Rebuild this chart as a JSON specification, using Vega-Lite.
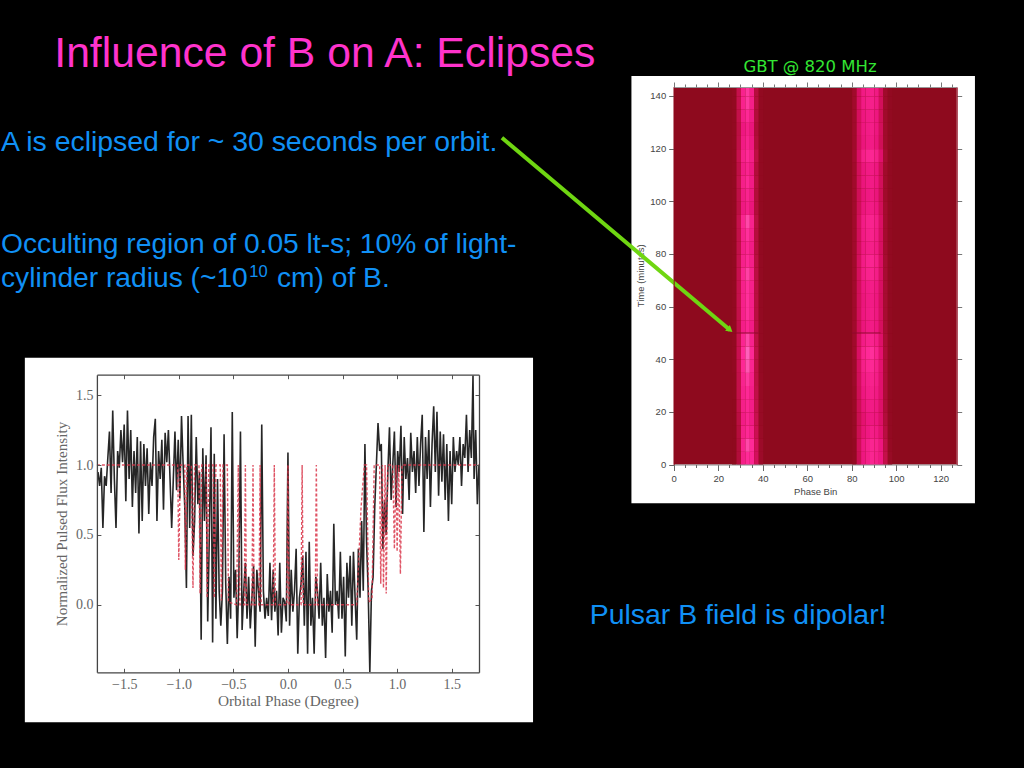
{"$schema":"https://vega.github.io/schema/vega-lite/v6.json","description":"Slide: eclipses of pulsar A by pulsar B, with a flux curve and a phase-time image.","width":1024,"height":768,"padding":0,"autosize":"none","background":"#000000","view":{"stroke":null},
"datasets":{
"flux":[{"p":-1.74,"f":0.95},{"p":-1.725,"f":0.85},{"p":-1.71,"f":0.98},{"p":-1.695,"f":0.55},{"p":-1.68,"f":0.92},{"p":-1.665,"f":0.85},{"p":-1.65,"f":1.05},{"p":-1.635,"f":1.24},{"p":-1.62,"f":0.8},{"p":-1.605,"f":1.39},{"p":-1.59,"f":0.9},{"p":-1.575,"f":0.55},{"p":-1.56,"f":1.1},{"p":-1.545,"f":0.98},{"p":-1.53,"f":1.25},{"p":-1.515,"f":1.02},{"p":-1.5,"f":1.29},{"p":-1.485,"f":0.74},{"p":-1.47,"f":1.39},{"p":-1.455,"f":0.9},{"p":-1.44,"f":1.25},{"p":-1.425,"f":0.7},{"p":-1.41,"f":1.1},{"p":-1.395,"f":0.8},{"p":-1.38,"f":1.2},{"p":-1.365,"f":0.51},{"p":-1.35,"f":1.17},{"p":-1.335,"f":0.6},{"p":-1.32,"f":1.15},{"p":-1.305,"f":0.85},{"p":-1.29,"f":1.12},{"p":-1.275,"f":0.65},{"p":-1.26,"f":1.02},{"p":-1.245,"f":0.85},{"p":-1.23,"f":1.2},{"p":-1.215,"f":1.33},{"p":-1.2,"f":0.6},{"p":-1.185,"f":1.1},{"p":-1.17,"f":0.9},{"p":-1.155,"f":1.18},{"p":-1.14,"f":0.68},{"p":-1.125,"f":1.23},{"p":-1.11,"f":1.02},{"p":-1.095,"f":1.25},{"p":-1.08,"f":0.9},{"p":-1.065,"f":0.55},{"p":-1.05,"f":0.9},{"p":-1.035,"f":1.24},{"p":-1.02,"f":0.82},{"p":-1.005,"f":1.18},{"p":-0.99,"f":0.76},{"p":-0.975,"f":1.35},{"p":-0.96,"f":1.0},{"p":-0.945,"f":0.7},{"p":-0.93,"f":0.12},{"p":-0.915,"f":1.35},{"p":-0.9,"f":0.55},{"p":-0.885,"f":1.36},{"p":-0.87,"f":0.35},{"p":-0.855,"f":0.6},{"p":-0.84,"f":1.2},{"p":-0.825,"f":0.72},{"p":-0.81,"f":0.95},{"p":-0.795,"f":-0.25},{"p":-0.78,"f":1.12},{"p":-0.765,"f":0.6},{"p":-0.75,"f":1.07},{"p":-0.735,"f":-0.12},{"p":-0.72,"f":0.5},{"p":-0.705,"f":1.27},{"p":-0.69,"f":-0.27},{"p":-0.675,"f":1.08},{"p":-0.66,"f":-0.1},{"p":-0.645,"f":0.9},{"p":-0.63,"f":0.1},{"p":-0.615,"f":-0.15},{"p":-0.6,"f":0.1},{"p":-0.585,"f":1.22},{"p":-0.57,"f":0.15},{"p":-0.555,"f":-0.28},{"p":-0.54,"f":0.2},{"p":-0.525,"f":-0.1},{"p":-0.51,"f":1.38},{"p":-0.495,"f":0.05},{"p":-0.48,"f":0.25},{"p":-0.465,"f":-0.24},{"p":-0.45,"f":0.15},{"p":-0.435,"f":1.24},{"p":-0.42,"f":-0.18},{"p":-0.405,"f":0.1},{"p":-0.39,"f":0.3},{"p":-0.375,"f":-0.1},{"p":-0.36,"f":0.2},{"p":-0.345,"f":-0.17},{"p":-0.33,"f":0.05},{"p":-0.315,"f":0.28},{"p":-0.3,"f":-0.3},{"p":-0.285,"f":0.25},{"p":-0.27,"f":0.1},{"p":-0.255,"f":-0.05},{"p":-0.24,"f":1.29},{"p":-0.225,"f":0.1},{"p":-0.21,"f":-0.1},{"p":-0.195,"f":0.05},{"p":-0.18,"f":-0.08},{"p":-0.165,"f":0.3},{"p":-0.15,"f":-0.11},{"p":-0.135,"f":0.25},{"p":-0.12,"f":-0.05},{"p":-0.105,"f":0.1},{"p":-0.09,"f":-0.22},{"p":-0.075,"f":0.3},{"p":-0.06,"f":-0.2},{"p":-0.045,"f":0.05},{"p":-0.03,"f":0.02},{"p":-0.015,"f":-0.12},{"p":0,"f":1.09},{"p":0.015,"f":-0.15},{"p":0.03,"f":0.25},{"p":0.045,"f":-0.05},{"p":0.06,"f":0.1},{"p":0.075,"f":0.4},{"p":0.09,"f":-0.35},{"p":0.105,"f":0.05},{"p":0.12,"f":0.15},{"p":0.135,"f":0.35},{"p":0.15,"f":-0.15},{"p":0.165,"f":0.38},{"p":0.18,"f":-0.35},{"p":0.195,"f":0.45},{"p":0.21,"f":-0.15},{"p":0.225,"f":0.05},{"p":0.24,"f":-0.35},{"p":0.255,"f":0.2},{"p":0.27,"f":0.1},{"p":0.285,"f":-0.1},{"p":0.3,"f":0.3},{"p":0.315,"f":-0.15},{"p":0.33,"f":0.05},{"p":0.345,"f":-0.38},{"p":0.36,"f":0.22},{"p":0.375,"f":-0.05},{"p":0.39,"f":0.1},{"p":0.405,"f":-0.2},{"p":0.42,"f":0.58},{"p":0.435,"f":0},{"p":0.45,"f":0.1},{"p":0.465,"f":-0.1},{"p":0.48,"f":0.38},{"p":0.495,"f":-0.1},{"p":0.51,"f":0.2},{"p":0.525,"f":-0.37},{"p":0.54,"f":0.3},{"p":0.555,"f":0.05},{"p":0.57,"f":0.35},{"p":0.585,"f":-0.15},{"p":0.6,"f":0.38},{"p":0.615,"f":0.05},{"p":0.63,"f":-0.25},{"p":0.645,"f":0.4},{"p":0.66,"f":0.05},{"p":0.675,"f":0.6},{"p":0.69,"f":0.1},{"p":0.705,"f":1.15},{"p":0.72,"f":0.45},{"p":0.735,"f":0.1},{"p":0.75,"f":-0.48},{"p":0.765,"f":0.1},{"p":0.78,"f":0.2},{"p":0.795,"f":0.7},{"p":0.81,"f":1},{"p":0.825,"f":1.3},{"p":0.84,"f":1.1},{"p":0.855,"f":1.15},{"p":0.87,"f":0.4},{"p":0.885,"f":0.75},{"p":0.9,"f":0.5},{"p":0.915,"f":0.95},{"p":0.93,"f":1.27},{"p":0.945,"f":0.75},{"p":0.96,"f":1},{"p":0.975,"f":1.24},{"p":0.99,"f":0.7},{"p":1.005,"f":1.1},{"p":1.02,"f":0.95},{"p":1.035,"f":1.28},{"p":1.05,"f":0.65},{"p":1.065,"f":1.2},{"p":1.08,"f":0.9},{"p":1.095,"f":1.05},{"p":1.11,"f":0.75},{"p":1.125,"f":1.23},{"p":1.14,"f":0.95},{"p":1.155,"f":1.1},{"p":1.17,"f":0.8},{"p":1.185,"f":1.2},{"p":1.2,"f":0.85},{"p":1.215,"f":1.15},{"p":1.23,"f":1.36},{"p":1.245,"f":0.52},{"p":1.26,"f":1.2},{"p":1.275,"f":0.9},{"p":1.29,"f":1.25},{"p":1.305,"f":0.7},{"p":1.32,"f":1.15},{"p":1.335,"f":1.42},{"p":1.35,"f":0.95},{"p":1.365,"f":1.38},{"p":1.38,"f":0.78},{"p":1.395,"f":1.24},{"p":1.41,"f":0.88},{"p":1.425,"f":1.22},{"p":1.44,"f":0.75},{"p":1.455,"f":1.15},{"p":1.47,"f":0.6},{"p":1.485,"f":1.1},{"p":1.5,"f":0.72},{"p":1.515,"f":1.2},{"p":1.53,"f":0.95},{"p":1.545,"f":1.1},{"p":1.56,"f":1.0},{"p":1.575,"f":1.2},{"p":1.59,"f":0.85},{"p":1.605,"f":1.15},{"p":1.62,"f":1.05},{"p":1.635,"f":1.36},{"p":1.65,"f":0.95},{"p":1.665,"f":1.25},{"p":1.68,"f":1.05},{"p":1.695,"f":1.64},{"p":1.705,"f":0.9},{"p":1.72,"f":1.25},{"p":1.735,"f":0.72},{"p":1.75,"f":1.0}],
"model":[{"p":-1.75,"f":1},{"p":-1.01,"f":1},{"p":-1,"f":0.32},{"p":-0.985,"f":1},{"p":-0.945,"f":1},{"p":-0.94,"f":0.25},{"p":-0.925,"f":1},{"p":-0.885,"f":1},{"p":-0.87,"f":0.12},{"p":-0.855,"f":1},{"p":-0.815,"f":1},{"p":-0.805,"f":0.08},{"p":-0.79,"f":1},{"p":-0.75,"f":1},{"p":-0.74,"f":0.05},{"p":-0.725,"f":1},{"p":-0.685,"f":1},{"p":-0.675,"f":0.05},{"p":-0.66,"f":1},{"p":-0.62,"f":1},{"p":-0.61,"f":0.03},{"p":-0.595,"f":1},{"p":-0.555,"f":1},{"p":-0.545,"f":0.02},{"p":-0.47,"f":0},{"p":-0.455,"f":1},{"p":-0.44,"f":0},{"p":-0.4,"f":0},{"p":-0.39,"f":1},{"p":-0.38,"f":0},{"p":-0.33,"f":0},{"p":-0.32,"f":1},{"p":-0.31,"f":0},{"p":-0.265,"f":0},{"p":-0.255,"f":1},{"p":-0.245,"f":0},{"p":-0.135,"f":0},{"p":-0.125,"f":1},{"p":-0.115,"f":0},{"p":-0.01,"f":0},{"p":0,"f":1},{"p":0.01,"f":0},{"p":0.12,"f":0},{"p":0.13,"f":1},{"p":0.14,"f":0},{"p":0.25,"f":0},{"p":0.26,"f":1},{"p":0.27,"f":0},{"p":0.63,"f":0},{"p":0.67,"f":0.7},{"p":0.7,"f":1},{"p":0.72,"f":1},{"p":0.74,"f":0.02},{"p":0.77,"f":0.04},{"p":0.79,"f":1},{"p":0.84,"f":1},{"p":0.85,"f":0.15},{"p":0.865,"f":1},{"p":0.875,"f":0.12},{"p":0.89,"f":1},{"p":0.9,"f":0.08},{"p":0.915,"f":1},{"p":0.96,"f":1},{"p":0.975,"f":0.4},{"p":0.99,"f":1},{"p":1.0,"f":0.38},{"p":1.015,"f":1},{"p":1.03,"f":0.22},{"p":1.045,"f":1},{"p":1.75,"f":1}],
"cells":[
{"b":26,"t":0,"v":0},{"b":28,"t":0,"v":0.2},{"b":30,"t":0,"v":0.7},{"b":32,"t":0,"v":0.85},{"b":34,"t":0,"v":0.8},{"b":36,"t":0,"v":0.4},{"b":38,"t":0,"v":0.08},
{"b":26,"t":5,"v":0},{"b":28,"t":5,"v":0.2},{"b":30,"t":5,"v":0.75},{"b":32,"t":5,"v":0.92},{"b":34,"t":5,"v":0.85},{"b":36,"t":5,"v":0.4},{"b":38,"t":5,"v":0.08},
{"b":26,"t":10,"v":0},{"b":28,"t":10,"v":0.22},{"b":30,"t":10,"v":0.7},{"b":32,"t":10,"v":0.82},{"b":34,"t":10,"v":0.72},{"b":36,"t":10,"v":0.35},{"b":38,"t":10,"v":0.06},
{"b":26,"t":15,"v":0},{"b":28,"t":15,"v":0.25},{"b":30,"t":15,"v":0.66},{"b":32,"t":15,"v":0.78},{"b":34,"t":15,"v":0.66},{"b":36,"t":15,"v":0.32},{"b":38,"t":15,"v":0.05},
{"b":26,"t":20,"v":0},{"b":28,"t":20,"v":0.28},{"b":30,"t":20,"v":0.7},{"b":32,"t":20,"v":0.8},{"b":34,"t":20,"v":0.68},{"b":36,"t":20,"v":0.3},{"b":38,"t":20,"v":0.05},
{"b":26,"t":25,"v":0.01},{"b":28,"t":25,"v":0.3},{"b":30,"t":25,"v":0.72},{"b":32,"t":25,"v":0.82},{"b":34,"t":25,"v":0.68},{"b":36,"t":25,"v":0.28},{"b":38,"t":25,"v":0.04},
{"b":26,"t":30,"v":0.01},{"b":28,"t":30,"v":0.3},{"b":30,"t":30,"v":0.75},{"b":32,"t":30,"v":0.88},{"b":34,"t":30,"v":0.72},{"b":36,"t":30,"v":0.26},{"b":38,"t":30,"v":0.04},
{"b":26,"t":35,"v":0.02},{"b":28,"t":35,"v":0.32},{"b":30,"t":35,"v":0.82},{"b":32,"t":35,"v":0.96},{"b":34,"t":35,"v":0.78},{"b":36,"t":35,"v":0.26},{"b":38,"t":35,"v":0.03},
{"b":26,"t":40,"v":0.02},{"b":28,"t":40,"v":0.34},{"b":30,"t":40,"v":0.85},{"b":32,"t":40,"v":1},{"b":34,"t":40,"v":0.82},{"b":36,"t":40,"v":0.28},{"b":38,"t":40,"v":0.03},
{"b":26,"t":45,"v":0.02},{"b":28,"t":45,"v":0.32},{"b":30,"t":45,"v":0.78},{"b":32,"t":45,"v":0.92},{"b":34,"t":45,"v":0.74},{"b":36,"t":45,"v":0.26},{"b":38,"t":45,"v":0.03},
{"b":26,"t":50,"v":0.02},{"b":28,"t":50,"v":0.28},{"b":30,"t":50,"v":0.68},{"b":32,"t":50,"v":0.8},{"b":34,"t":50,"v":0.66},{"b":36,"t":50,"v":0.25},{"b":38,"t":50,"v":0.03},
{"b":26,"t":55,"v":0.02},{"b":28,"t":55,"v":0.3},{"b":30,"t":55,"v":0.72},{"b":32,"t":55,"v":0.86},{"b":34,"t":55,"v":0.7},{"b":36,"t":55,"v":0.24},{"b":38,"t":55,"v":0.03},
{"b":26,"t":60,"v":0.02},{"b":28,"t":60,"v":0.32},{"b":30,"t":60,"v":0.72},{"b":32,"t":60,"v":0.86},{"b":34,"t":60,"v":0.7},{"b":36,"t":60,"v":0.24},{"b":38,"t":60,"v":0.03},
{"b":26,"t":65,"v":0.02},{"b":28,"t":65,"v":0.32},{"b":30,"t":65,"v":0.72},{"b":32,"t":65,"v":0.86},{"b":34,"t":65,"v":0.72},{"b":36,"t":65,"v":0.24},{"b":38,"t":65,"v":0.03},
{"b":26,"t":70,"v":0.02},{"b":28,"t":70,"v":0.34},{"b":30,"t":70,"v":0.78},{"b":32,"t":70,"v":0.9},{"b":34,"t":70,"v":0.74},{"b":36,"t":70,"v":0.25},{"b":38,"t":70,"v":0.03},
{"b":26,"t":75,"v":0.02},{"b":28,"t":75,"v":0.32},{"b":30,"t":75,"v":0.72},{"b":32,"t":75,"v":0.84},{"b":34,"t":75,"v":0.7},{"b":36,"t":75,"v":0.24},{"b":38,"t":75,"v":0.03},
{"b":26,"t":80,"v":0.02},{"b":28,"t":80,"v":0.3},{"b":30,"t":80,"v":0.68},{"b":32,"t":80,"v":0.8},{"b":34,"t":80,"v":0.66},{"b":36,"t":80,"v":0.22},{"b":38,"t":80,"v":0.02},
{"b":26,"t":85,"v":0.02},{"b":28,"t":85,"v":0.3},{"b":30,"t":85,"v":0.72},{"b":32,"t":85,"v":0.86},{"b":34,"t":85,"v":0.7},{"b":36,"t":85,"v":0.22},{"b":38,"t":85,"v":0.02},
{"b":26,"t":90,"v":0.02},{"b":28,"t":90,"v":0.32},{"b":30,"t":90,"v":0.78},{"b":32,"t":90,"v":0.92},{"b":34,"t":90,"v":0.74},{"b":36,"t":90,"v":0.24},{"b":38,"t":90,"v":0.02},
{"b":26,"t":95,"v":0.02},{"b":28,"t":95,"v":0.26},{"b":30,"t":95,"v":0.62},{"b":32,"t":95,"v":0.72},{"b":34,"t":95,"v":0.58},{"b":36,"t":95,"v":0.2},{"b":38,"t":95,"v":0.02},
{"b":26,"t":100,"v":0.02},{"b":28,"t":100,"v":0.28},{"b":30,"t":100,"v":0.64},{"b":32,"t":100,"v":0.76},{"b":34,"t":100,"v":0.62},{"b":36,"t":100,"v":0.2},{"b":38,"t":100,"v":0.02},
{"b":26,"t":105,"v":0.02},{"b":28,"t":105,"v":0.3},{"b":30,"t":105,"v":0.7},{"b":32,"t":105,"v":0.82},{"b":34,"t":105,"v":0.66},{"b":36,"t":105,"v":0.22},{"b":38,"t":105,"v":0.02},
{"b":26,"t":110,"v":0.02},{"b":28,"t":110,"v":0.28},{"b":30,"t":110,"v":0.66},{"b":32,"t":110,"v":0.76},{"b":34,"t":110,"v":0.62},{"b":36,"t":110,"v":0.2},{"b":38,"t":110,"v":0.02},
{"b":26,"t":115,"v":0.02},{"b":28,"t":115,"v":0.32},{"b":30,"t":115,"v":0.72},{"b":32,"t":115,"v":0.84},{"b":34,"t":115,"v":0.7},{"b":36,"t":115,"v":0.26},{"b":38,"t":115,"v":0.02},
{"b":26,"t":120,"v":0.02},{"b":28,"t":120,"v":0.28},{"b":30,"t":120,"v":0.64},{"b":32,"t":120,"v":0.76},{"b":34,"t":120,"v":0.62},{"b":36,"t":120,"v":0.2},{"b":38,"t":120,"v":0.02},
{"b":26,"t":125,"v":0.02},{"b":28,"t":125,"v":0.26},{"b":30,"t":125,"v":0.6},{"b":32,"t":125,"v":0.7},{"b":34,"t":125,"v":0.58},{"b":36,"t":125,"v":0.18},{"b":38,"t":125,"v":0.02},
{"b":26,"t":130,"v":0.02},{"b":28,"t":130,"v":0.3},{"b":30,"t":130,"v":0.68},{"b":32,"t":130,"v":0.82},{"b":34,"t":130,"v":0.66},{"b":36,"t":130,"v":0.2},{"b":38,"t":130,"v":0.02},
{"b":26,"t":135,"v":0.02},{"b":28,"t":135,"v":0.32},{"b":30,"t":135,"v":0.74},{"b":32,"t":135,"v":0.88},{"b":34,"t":135,"v":0.7},{"b":36,"t":135,"v":0.22},{"b":38,"t":135,"v":0.02},
{"b":26,"t":140,"v":0.02},{"b":28,"t":140,"v":0.32},{"b":30,"t":140,"v":0.74},{"b":32,"t":140,"v":0.88},{"b":34,"t":140,"v":0.7},{"b":36,"t":140,"v":0.22},{"b":38,"t":140,"v":0.02},
{"b":80,"t":0,"v":0.03},{"b":82,"t":0,"v":0.35},{"b":84,"t":0,"v":0.6},{"b":86,"t":0,"v":0.7},{"b":88,"t":0,"v":0.78},{"b":90,"t":0,"v":0.72},{"b":92,"t":0,"v":0.62},{"b":94,"t":0,"v":0.3},{"b":96,"t":0,"v":0.05},
{"b":80,"t":5,"v":0.03},{"b":82,"t":5,"v":0.38},{"b":84,"t":5,"v":0.62},{"b":86,"t":5,"v":0.72},{"b":88,"t":5,"v":0.78},{"b":90,"t":5,"v":0.74},{"b":92,"t":5,"v":0.6},{"b":94,"t":5,"v":0.28},{"b":96,"t":5,"v":0.04},
{"b":80,"t":10,"v":0.05},{"b":82,"t":10,"v":0.36},{"b":84,"t":10,"v":0.55},{"b":86,"t":10,"v":0.62},{"b":88,"t":10,"v":0.68},{"b":90,"t":10,"v":0.64},{"b":92,"t":10,"v":0.52},{"b":94,"t":10,"v":0.24},{"b":96,"t":10,"v":0.03},
{"b":80,"t":15,"v":0.05},{"b":82,"t":15,"v":0.35},{"b":84,"t":15,"v":0.52},{"b":86,"t":15,"v":0.6},{"b":88,"t":15,"v":0.62},{"b":90,"t":15,"v":0.6},{"b":92,"t":15,"v":0.48},{"b":94,"t":15,"v":0.2},{"b":96,"t":15,"v":0.03},
{"b":80,"t":20,"v":0.06},{"b":82,"t":20,"v":0.36},{"b":84,"t":20,"v":0.56},{"b":86,"t":20,"v":0.64},{"b":88,"t":20,"v":0.66},{"b":90,"t":20,"v":0.62},{"b":92,"t":20,"v":0.48},{"b":94,"t":20,"v":0.18},{"b":96,"t":20,"v":0.02},
{"b":80,"t":25,"v":0.06},{"b":82,"t":25,"v":0.38},{"b":84,"t":25,"v":0.6},{"b":86,"t":25,"v":0.68},{"b":88,"t":25,"v":0.7},{"b":90,"t":25,"v":0.64},{"b":92,"t":25,"v":0.5},{"b":94,"t":25,"v":0.18},{"b":96,"t":25,"v":0.02},
{"b":80,"t":30,"v":0.08},{"b":82,"t":30,"v":0.4},{"b":84,"t":30,"v":0.64},{"b":86,"t":30,"v":0.72},{"b":88,"t":30,"v":0.74},{"b":90,"t":30,"v":0.68},{"b":92,"t":30,"v":0.5},{"b":94,"t":30,"v":0.18},{"b":96,"t":30,"v":0.02},
{"b":80,"t":35,"v":0.08},{"b":82,"t":35,"v":0.42},{"b":84,"t":35,"v":0.7},{"b":86,"t":35,"v":0.8},{"b":88,"t":35,"v":0.82},{"b":90,"t":35,"v":0.72},{"b":92,"t":35,"v":0.52},{"b":94,"t":35,"v":0.18},{"b":96,"t":35,"v":0.02},
{"b":80,"t":40,"v":0.1},{"b":82,"t":40,"v":0.45},{"b":84,"t":40,"v":0.74},{"b":86,"t":40,"v":0.84},{"b":88,"t":40,"v":0.86},{"b":90,"t":40,"v":0.76},{"b":92,"t":40,"v":0.52},{"b":94,"t":40,"v":0.18},{"b":96,"t":40,"v":0.02},
{"b":80,"t":45,"v":0.1},{"b":82,"t":45,"v":0.42},{"b":84,"t":45,"v":0.66},{"b":86,"t":45,"v":0.74},{"b":88,"t":45,"v":0.76},{"b":90,"t":45,"v":0.68},{"b":92,"t":45,"v":0.48},{"b":94,"t":45,"v":0.16},{"b":96,"t":45,"v":0.02},
{"b":80,"t":50,"v":0.1},{"b":82,"t":50,"v":0.38},{"b":84,"t":50,"v":0.58},{"b":86,"t":50,"v":0.64},{"b":88,"t":50,"v":0.66},{"b":90,"t":50,"v":0.6},{"b":92,"t":50,"v":0.42},{"b":94,"t":50,"v":0.14},{"b":96,"t":50,"v":0.02},
{"b":80,"t":55,"v":0.1},{"b":82,"t":55,"v":0.4},{"b":84,"t":55,"v":0.6},{"b":86,"t":55,"v":0.66},{"b":88,"t":55,"v":0.68},{"b":90,"t":55,"v":0.62},{"b":92,"t":55,"v":0.44},{"b":94,"t":55,"v":0.14},{"b":96,"t":55,"v":0.02},
{"b":80,"t":60,"v":0.1},{"b":82,"t":60,"v":0.4},{"b":84,"t":60,"v":0.58},{"b":86,"t":60,"v":0.64},{"b":88,"t":60,"v":0.66},{"b":90,"t":60,"v":0.6},{"b":92,"t":60,"v":0.42},{"b":94,"t":60,"v":0.14},{"b":96,"t":60,"v":0.02},
{"b":80,"t":65,"v":0.1},{"b":82,"t":65,"v":0.4},{"b":84,"t":65,"v":0.6},{"b":86,"t":65,"v":0.66},{"b":88,"t":65,"v":0.68},{"b":90,"t":65,"v":0.62},{"b":92,"t":65,"v":0.44},{"b":94,"t":65,"v":0.14},{"b":96,"t":65,"v":0.02},
{"b":80,"t":70,"v":0.1},{"b":82,"t":70,"v":0.42},{"b":84,"t":70,"v":0.66},{"b":86,"t":70,"v":0.74},{"b":88,"t":70,"v":0.76},{"b":90,"t":70,"v":0.68},{"b":92,"t":70,"v":0.46},{"b":94,"t":70,"v":0.14},{"b":96,"t":70,"v":0.02},
{"b":80,"t":75,"v":0.1},{"b":82,"t":75,"v":0.42},{"b":84,"t":75,"v":0.66},{"b":86,"t":75,"v":0.76},{"b":88,"t":75,"v":0.78},{"b":90,"t":75,"v":0.7},{"b":92,"t":75,"v":0.46},{"b":94,"t":75,"v":0.14},{"b":96,"t":75,"v":0.02},
{"b":80,"t":80,"v":0.1},{"b":82,"t":80,"v":0.4},{"b":84,"t":80,"v":0.62},{"b":86,"t":80,"v":0.68},{"b":88,"t":80,"v":0.7},{"b":90,"t":80,"v":0.64},{"b":92,"t":80,"v":0.44},{"b":94,"t":80,"v":0.12},{"b":96,"t":80,"v":0.02},
{"b":80,"t":85,"v":0.1},{"b":82,"t":85,"v":0.4},{"b":84,"t":85,"v":0.64},{"b":86,"t":85,"v":0.72},{"b":88,"t":85,"v":0.74},{"b":90,"t":85,"v":0.66},{"b":92,"t":85,"v":0.44},{"b":94,"t":85,"v":0.12},{"b":96,"t":85,"v":0.02},
{"b":80,"t":90,"v":0.1},{"b":82,"t":90,"v":0.42},{"b":84,"t":90,"v":0.66},{"b":86,"t":90,"v":0.74},{"b":88,"t":90,"v":0.76},{"b":90,"t":90,"v":0.68},{"b":92,"t":90,"v":0.46},{"b":94,"t":90,"v":0.12},{"b":96,"t":90,"v":0.02},
{"b":80,"t":95,"v":0.1},{"b":82,"t":95,"v":0.38},{"b":84,"t":95,"v":0.58},{"b":86,"t":95,"v":0.64},{"b":88,"t":95,"v":0.66},{"b":90,"t":95,"v":0.6},{"b":92,"t":95,"v":0.4},{"b":94,"t":95,"v":0.12},{"b":96,"t":95,"v":0.02},
{"b":80,"t":100,"v":0.1},{"b":82,"t":100,"v":0.38},{"b":84,"t":100,"v":0.56},{"b":86,"t":100,"v":0.62},{"b":88,"t":100,"v":0.64},{"b":90,"t":100,"v":0.58},{"b":92,"t":100,"v":0.38},{"b":94,"t":100,"v":0.1},{"b":96,"t":100,"v":0.02},
{"b":80,"t":105,"v":0.1},{"b":82,"t":105,"v":0.4},{"b":84,"t":105,"v":0.58},{"b":86,"t":105,"v":0.64},{"b":88,"t":105,"v":0.66},{"b":90,"t":105,"v":0.6},{"b":92,"t":105,"v":0.4},{"b":94,"t":105,"v":0.1},{"b":96,"t":105,"v":0.02},
{"b":80,"t":110,"v":0.1},{"b":82,"t":110,"v":0.4},{"b":84,"t":110,"v":0.58},{"b":86,"t":110,"v":0.64},{"b":88,"t":110,"v":0.66},{"b":90,"t":110,"v":0.6},{"b":92,"t":110,"v":0.38},{"b":94,"t":110,"v":0.1},{"b":96,"t":110,"v":0.02},
{"b":80,"t":115,"v":0.12},{"b":82,"t":115,"v":0.46},{"b":84,"t":115,"v":0.7},{"b":86,"t":115,"v":0.78},{"b":88,"t":115,"v":0.8},{"b":90,"t":115,"v":0.72},{"b":92,"t":115,"v":0.5},{"b":94,"t":115,"v":0.14},{"b":96,"t":115,"v":0.02},
{"b":80,"t":120,"v":0.1},{"b":82,"t":120,"v":0.4},{"b":84,"t":120,"v":0.58},{"b":86,"t":120,"v":0.64},{"b":88,"t":120,"v":0.66},{"b":90,"t":120,"v":0.58},{"b":92,"t":120,"v":0.38},{"b":94,"t":120,"v":0.1},{"b":96,"t":120,"v":0.02},
{"b":80,"t":125,"v":0.1},{"b":82,"t":125,"v":0.42},{"b":84,"t":125,"v":0.6},{"b":86,"t":125,"v":0.66},{"b":88,"t":125,"v":0.68},{"b":90,"t":125,"v":0.6},{"b":92,"t":125,"v":0.4},{"b":94,"t":125,"v":0.1},{"b":96,"t":125,"v":0.02},
{"b":80,"t":130,"v":0.1},{"b":82,"t":130,"v":0.42},{"b":84,"t":130,"v":0.6},{"b":86,"t":130,"v":0.66},{"b":88,"t":130,"v":0.68},{"b":90,"t":130,"v":0.6},{"b":92,"t":130,"v":0.38},{"b":94,"t":130,"v":0.1},{"b":96,"t":130,"v":0.02},
{"b":80,"t":135,"v":0.1},{"b":82,"t":135,"v":0.44},{"b":84,"t":135,"v":0.64},{"b":86,"t":135,"v":0.7},{"b":88,"t":135,"v":0.72},{"b":90,"t":135,"v":0.64},{"b":92,"t":135,"v":0.4},{"b":94,"t":135,"v":0.1},{"b":96,"t":135,"v":0.02},
{"b":80,"t":140,"v":0.1},{"b":82,"t":140,"v":0.44},{"b":84,"t":140,"v":0.64},{"b":86,"t":140,"v":0.7},{"b":88,"t":140,"v":0.72},{"b":90,"t":140,"v":0.64},{"b":92,"t":140,"v":0.4},{"b":94,"t":140,"v":0.1},{"b":96,"t":140,"v":0.02}
],
"gaps":[{"t":50,"b":28,"b2":38},{"t":50,"b":80,"b2":93}],
"arrow":[{"b":-77.2,"t":124.1},{"b":25.3,"t":51.1}],
"tip":[{"b":25.3,"t":51.1}]
},
"resolve":{"scale":{"x":"independent","y":"independent"},"axis":{"x":"independent","y":"independent"}},
"layer":[
{"data":{"values":[{"label":"Influence of B on A: Eclipses"}]},"mark":{"type":"text","align":"left","baseline":"alphabetic","font":"Liberation Sans","fontSize":42.7,"color":"#ff33cc"},"encoding":{"text":{"field":"label"},"x":{"datum":5.3,"type":"quantitative","scale":{"domain":[0,100],"range":[0,1024]},"axis":null},"y":{"datum":8.75,"type":"quantitative","scale":{"domain":[0,100],"range":[0,768]},"axis":null}}},
{"data":{"values":[{"label":"A is eclipsed for ~ 30 seconds per orbit."}]},"mark":{"type":"text","align":"left","baseline":"alphabetic","font":"Liberation Sans","fontSize":28.4,"color":"#1090f5"},"encoding":{"text":{"field":"label"},"x":{"datum":0.1,"type":"quantitative","scale":{"domain":[0,100],"range":[0,1024]},"axis":null},"y":{"datum":19.6,"type":"quantitative","scale":{"domain":[0,100],"range":[0,768]},"axis":null}}},
{"data":{"values":[{"label":"Occulting region of 0.05 lt-s; 10% of light-"}]},"mark":{"type":"text","align":"left","baseline":"alphabetic","font":"Liberation Sans","fontSize":28.2,"color":"#1090f5"},"encoding":{"text":{"field":"label"},"x":{"datum":0.1,"type":"quantitative","scale":{"domain":[0,100],"range":[0,1024]},"axis":null},"y":{"datum":32.9,"type":"quantitative","scale":{"domain":[0,100],"range":[0,768]},"axis":null}}},
{"data":{"values":[{"label":"cylinder radius (~10"}]},"mark":{"type":"text","align":"left","baseline":"alphabetic","font":"Liberation Sans","fontSize":28.2,"color":"#1090f5"},"encoding":{"text":{"field":"label"},"x":{"datum":0.1,"type":"quantitative","scale":{"domain":[0,100],"range":[0,1024]},"axis":null},"y":{"datum":37.4,"type":"quantitative","scale":{"domain":[0,100],"range":[0,768]},"axis":null}}},
{"data":{"values":[{"label":"10"}]},"mark":{"type":"text","align":"left","baseline":"alphabetic","font":"Liberation Sans","fontSize":16.5,"color":"#1090f5"},"encoding":{"text":{"field":"label"},"x":{"datum":24.35,"type":"quantitative","scale":{"domain":[0,100],"range":[0,1024]},"axis":null},"y":{"datum":36.1,"type":"quantitative","scale":{"domain":[0,100],"range":[0,768]},"axis":null}}},
{"data":{"values":[{"label":"cm) of B."}]},"mark":{"type":"text","align":"left","baseline":"alphabetic","font":"Liberation Sans","fontSize":28.2,"color":"#1090f5"},"encoding":{"text":{"field":"label"},"x":{"datum":27.05,"type":"quantitative","scale":{"domain":[0,100],"range":[0,1024]},"axis":null},"y":{"datum":37.4,"type":"quantitative","scale":{"domain":[0,100],"range":[0,768]},"axis":null}}},
{"data":{"values":[{"label":"Pulsar B field is dipolar!"}]},"mark":{"type":"text","align":"left","baseline":"alphabetic","font":"Liberation Sans","fontSize":28.4,"color":"#1090f5"},"encoding":{"text":{"field":"label"},"x":{"datum":57.6,"type":"quantitative","scale":{"domain":[0,100],"range":[0,1024]},"axis":null},"y":{"datum":81.2,"type":"quantitative","scale":{"domain":[0,100],"range":[0,768]},"axis":null}}},
{"data":{"values":[{"label":"GBT @ 820 MHz"}]},"mark":{"type":"text","align":"left","baseline":"alphabetic","font":"DejaVu Sans","fontSize":16.5,"color":"#33e633"},"encoding":{"text":{"field":"label"},"x":{"datum":72.6,"type":"quantitative","scale":{"domain":[0,100],"range":[0,1024]},"axis":null},"y":{"datum":9.4,"type":"quantitative","scale":{"domain":[0,100],"range":[0,768]},"axis":null}}},
{"data":{"values":[{}]},"mark":{"type":"rect","color":"#ffffff"},"encoding":{"x":{"datum":-2.41,"type":"quantitative","scale":{"domain":[-1.75,1.75],"range":[96.9,479]},"axis":null},"x2":{"datum":2.245},"y":{"datum":-0.84,"type":"quantitative","scale":{"domain":[-0.483,1.646],"range":[672.3,374.7]},"axis":null},"y2":{"datum":1.768}}},
{"data":{"name":"flux"},"mark":{"type":"line","color":"#000000","strokeWidth":1.6,"opacity":0.85},"encoding":{"x":{"field":"p","type":"quantitative","scale":{"domain":[-1.75,1.75],"range":[96.9,479]},"axis":{"orient":"bottom","offset":-95.7,"values":[-1.5,-1,-0.5,0,0.5,1,1.5],"format":".1f","labelFlush":false,"title":"Orbital Phase (Degree)","titleFont":"Liberation Serif","titleFontSize":15.3,"titleFontWeight":"normal","titleColor":"#666666","titlePadding":2,"labelFont":"Liberation Serif","labelFontSize":14,"labelColor":"#666666","labelPadding":9,"tickSize":-4,"tickColor":"#555555","domainColor":"#444444","domainWidth":1.3,"grid":false,"zindex":1}},"y":{"field":"f","type":"quantitative","scale":{"domain":[-0.483,1.646],"range":[672.3,374.7]},"axis":{"orient":"left","offset":-96.9,"values":[0,0.5,1,1.5],"format":".1f","labelFlush":false,"title":"Normalized Pulsed Flux Intensity","titleFont":"Liberation Serif","titleFontSize":15.2,"titleFontWeight":"normal","titleColor":"#666666","titlePadding":6,"labelFont":"Liberation Serif","labelFontSize":14,"labelColor":"#666666","labelPadding":8,"tickSize":-4,"tickColor":"#555555","domainColor":"#444444","domainWidth":1.3,"grid":false,"zindex":1}}}},
{"data":{"name":"model"},"mark":{"type":"line","color":"#d9364a","strokeWidth":1.4,"strokeDash":[3,2],"opacity":0.85},"encoding":{"x":{"field":"p","type":"quantitative","scale":{"domain":[-1.75,1.75],"range":[96.9,479]},"axis":{"orient":"top","offset":-374.7,"values":[-1.5,-1,-0.5,0,0.5,1,1.5],"labels":false,"title":null,"tickSize":-4,"tickColor":"#555555","domainColor":"#444444","domainWidth":1.3,"grid":false,"zindex":1}},"y":{"field":"f","type":"quantitative","scale":{"domain":[-0.483,1.646],"range":[672.3,374.7]},"axis":{"orient":"right","offset":-545,"values":[0,0.5,1,1.5],"labels":false,"title":null,"tickSize":-4,"tickColor":"#555555","domainColor":"#444444","domainWidth":1.3,"grid":false,"zindex":1}}}},
{"data":{"values":[{}]},"mark":{"type":"rect","color":"#ffffff"},"encoding":{"x":{"datum":-19,"type":"quantitative","scale":{"domain":[0,127.2],"range":[673.7,956.7]},"axis":null},"x2":{"datum":135.4},"y":{"datum":-14.7,"type":"quantitative","scale":{"domain":[0,143.4],"range":[464.5,87]},"axis":null},"y2":{"datum":147.6}}},
{"data":{"values":[{}]},"mark":{"type":"rect","color":"#8e0a1e"},"encoding":{"x":{"datum":0,"type":"quantitative","scale":{"domain":[0,127.2],"range":[673.7,956.7]},"axis":{"orient":"bottom","offset":-303.5,"values":[0,20,40,60,80,100,120],"labelFlush":false,"title":"Phase Bin","titleFont":"Liberation Sans","titleFontSize":9.5,"titleFontWeight":"normal","titleColor":"#444444","titlePadding":3,"labelFont":"Liberation Sans","labelFontSize":9.5,"labelColor":"#444444","labelPadding":3,"tickSize":6,"tickColor":"#666666","domainColor":"#888888","grid":false,"zindex":1}},"x2":{"datum":127.2},"y":{"datum":0,"type":"quantitative","scale":{"domain":[0,143.4],"range":[464.5,87]},"axis":{"orient":"left","offset":-673.7,"values":[0,20,40,60,80,100,120,140],"labelFlush":false,"title":null,"labelFont":"Liberation Sans","labelFontSize":9.5,"labelColor":"#444444","labelPadding":3,"tickSize":5,"tickColor":"#666666","domainColor":"#8e0a1e","grid":false,"zindex":1}},"y2":{"datum":143.4}}},
{"data":{"name":"cells"},"mark":{"type":"rect"},"encoding":{"x":{"bin":{"step":2,"extent":[-1,129]},"field":"b","type":"quantitative","scale":{"domain":[0,127.2],"range":[673.7,956.7]},"axis":{"orient":"top","offset":-87,"values":[0,20,40,60,80,100,120],"labels":false,"title":null,"tickSize":5,"tickColor":"#777777","domainColor":"#999999","grid":false,"zindex":1}},"y":{"bin":{"step":5,"extent":[-2.5,147.5]},"field":"t","type":"quantitative","scale":{"domain":[0,143.4],"range":[464.5,87],"clamp":true},"axis":{"orient":"right","offset":-67.3,"values":[0,20,40,60,80,100,120,140],"labels":false,"title":null,"tickSize":5,"tickColor":"#777777","domainColor":"#8e0a1e","grid":false,"zindex":1}},"color":{"aggregate":"mean","field":"v","type":"quantitative","scale":{"domain":[0,0.3,0.6,0.85,1],"range":["#8e0a1e","#c4104a","#ee1680","#ff2a98","#ff60bc"]},"legend":null}}},
{"data":{"name":"gaps"},"mark":{"type":"rule","color":"#8e0a30","strokeWidth":1,"opacity":0.8},"encoding":{"x":{"field":"b","type":"quantitative","scale":{"domain":[0,127.2],"range":[673.7,956.7]},"axis":{"orient":"bottom","offset":-303.5,"values":[5,10,15,25,30,35,45,50,55,65,70,75,85,90,95,105,110,115,125],"labels":false,"title":null,"tickSize":3,"tickColor":"#666666","domain":false,"grid":false,"zindex":1}},"x2":{"field":"b2"},"y":{"field":"t","type":"quantitative","scale":{"domain":[0,143.4],"range":[464.5,87]},"axis":null}}},
{"data":{"values":[{"label":"Time (minutes)"}]},"mark":{"type":"text","angle":270,"font":"Liberation Sans","fontSize":9.5,"color":"#444444"},"encoding":{"text":{"field":"label"},"x":{"datum":-14.7,"type":"quantitative","scale":{"domain":[0,127.2],"range":[673.7,956.7]},"axis":{"orient":"top","offset":-87,"values":[5,10,15,25,30,35,45,50,55,65,70,75,85,90,95,105,110,115,125],"labels":false,"title":null,"tickSize":3,"tickColor":"#777777","domain":false,"grid":false,"zindex":1}},"y":{"datum":71.7,"type":"quantitative","scale":{"domain":[0,143.4],"range":[464.5,87]},"axis":null}}},
{"data":{"name":"arrow"},"mark":{"type":"line","color":"#6fd612","strokeWidth":4},"encoding":{"x":{"field":"b","type":"quantitative","scale":{"domain":[0,127.2],"range":[673.7,956.7]},"axis":null},"y":{"field":"t","type":"quantitative","scale":{"domain":[0,143.4],"range":[464.5,87]},"axis":null}}},
{"data":{"name":"tip"},"mark":{"type":"point","shape":"triangle-up","angle":130,"size":55,"filled":true,"opacity":1,"color":"#6fd612"},"encoding":{"x":{"field":"b","type":"quantitative","scale":{"domain":[0,127.2],"range":[673.7,956.7]},"axis":null},"y":{"field":"t","type":"quantitative","scale":{"domain":[0,143.4],"range":[464.5,87]},"axis":null}}}
]}
